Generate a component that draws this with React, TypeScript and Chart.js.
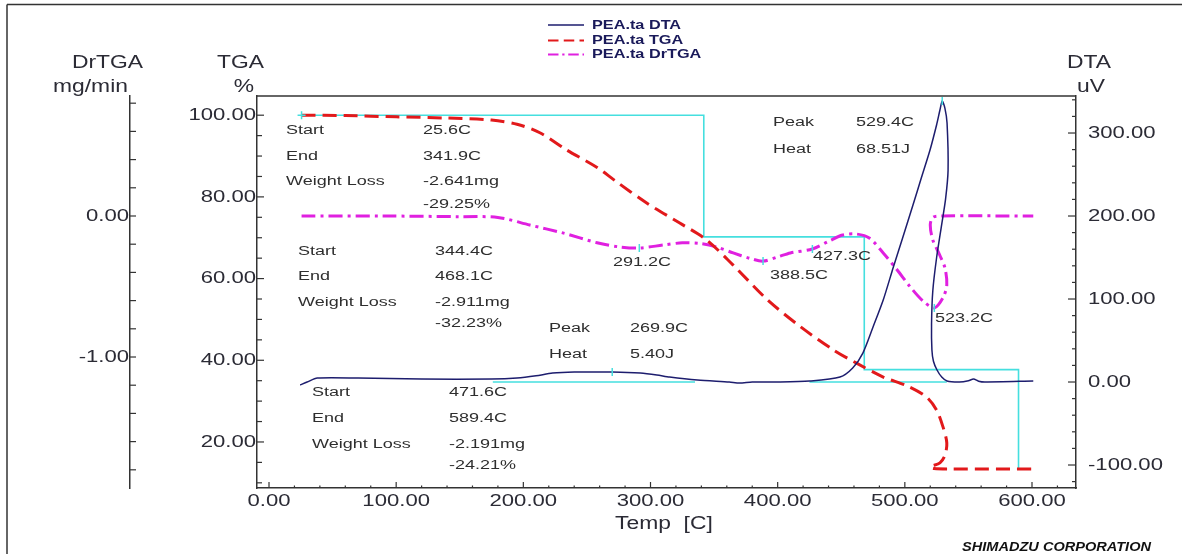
import React, { useEffect, useRef } from 'react';
import { Chart, registerables } from 'chart.js';

Chart.register(...registerables);

// ---------- axis tick labels ----------
const TEMP_TICKS = [0, 100, 200, 300, 400, 500, 600];
const TGA_TICKS = [20, 40, 60, 80, 100];
const DRTGA_TICKS = [-1, 0];
const DTA_TICKS = [-100, 0, 100, 200, 300];

// ---------- DTA (Temp [C], uV) ----------
const DTA_T = [24.5, 30, 38, 70, 120, 175, 195, 210, 223, 240, 270, 292, 305, 315, 337, 362, 370, 380, 402, 425, 449, 459, 467, 475, 483, 491, 498.5, 506.4, 513, 519.8, 525, 527.6, 529.4, 531.5, 533.2, 534, 532, 529, 525, 522, 521, 521.3, 522.5, 525.3, 529, 533.2, 543, 550, 554, 558, 563, 601];
const DTA_V = [-3.6, 0, 4.8, 4.8, 3.6, 3.6, 4.8, 7.5, 10.8, 12, 12, 10.8, 8.5, 6, 2.4, 0, -1.2, 0, 0, 1.2, 6, 16.9, 34.9, 66.3, 98.8, 138.6, 174.7, 213.3, 246, 279.5, 310, 327.7, 338.5, 330, 312, 255, 220, 190, 150, 110, 70, 38.6, 25, 14.5, 6, 1.2, 0, 1.5, 3.6, 1, 0, 1.2];

// ---------- TGA (Temp [C], %) ----------
const TGA_T = [25.6, 60, 100, 140, 175, 195, 213, 234, 258, 272, 297, 323, 344, 365, 392, 418, 444, 462, 483, 502, 517, 525, 530, 533, 531.6, 527.6, 520, 523, 535, 604];
const TGA_V = [100.0, 99.9, 99.6, 99.3, 98.8, 97.8, 95.7, 91.5, 87.2, 84.0, 78.5, 73.6, 69.5, 63.3, 54.8, 48.2, 42.5, 39.3, 35.9, 33.7, 31.0, 27.8, 23.7, 19.8, 16.8, 14.9, 13.9, 13.5, 13.4, 13.4];

// ---------- DrTGA (Temp [C], mg/min) ----------
const DRTGA_T = [25.6, 90, 150, 180, 205, 231, 258, 276, 291.2, 310, 325, 339, 352, 365, 378, 388.5, 400, 410, 427.3, 440, 451, 462, 472, 483, 494, 504, 514, 523.2, 530, 533, 531.6, 527.6, 522, 520, 522, 528, 601];
const DRTGA_V = [0.0, 0.0, -0.005, -0.01, -0.064, -0.12, -0.19, -0.22, -0.227, -0.206, -0.19, -0.195, -0.22, -0.262, -0.30, -0.32, -0.29, -0.262, -0.234, -0.18, -0.135, -0.128, -0.156, -0.262, -0.383, -0.50, -0.60, -0.652, -0.58, -0.49, -0.37, -0.28, -0.17, -0.064, -0.01, 0.0, 0.0];

// ---------- TGA step analysis ----------
const STEP_START = [25.6, 344.4, 471.6];
const STEP_END = [341.9, 468.1, 589.4];
const STEP_LOSS_MG = [-2.641, -2.911, -2.191];
const STEP_LOSS_PCT = [-29.25, -32.23, -24.21];
const STEP_LEVELS = [100, 70.2, 37.7, 13.4];

// ---------- DTA peaks ----------
const DTA_PEAK_T = [269.9, 529.4];
const DTA_PEAK_V = [12, 338.5];
const DTA_PEAK_HEAT = [5.40, 68.51];
const DTA_BASE_FROM = [176, 425];
const DTA_BASE_TO = [335, 533];

// ---------- DrTGA peaks ----------
const DRTGA_PEAK_T = [291.2, 388.5, 427.3, 523.2];
const DRTGA_PEAK_V = [-0.227, -0.32, -0.234, -0.652];

const SERIES_NAMES = ['PEA.ta DTA', 'PEA.ta TGA', 'PEA.ta DrTGA'];

const NAVY = '#1d1d6e';
const RED = '#e2191b';
const MAGENTA = '#e020e0';
const CYAN = '#45dfdf';
const AXIS = '#333333';
const TXT = '#2e2e2e';
const FONT = '"Liberation Sans", Arial, Helvetica, sans-serif';

const pts = (xs: number[], ys: number[]) => xs.map((x, i) => ({ x, y: ys[i] }));

function sText(ctx: CanvasRenderingContext2D, text: string, x: number, y: number, o: any = {}) {
  const size = o.size ?? 12;
  const sx = o.sx ?? 1.5;
  const align = o.align ?? 'left';
  ctx.save();
  ctx.font = `${o.style ?? 'normal'} ${o.weight ?? 'normal'} ${size}px ${FONT}`;
  ctx.fillStyle = o.color ?? TXT;
  ctx.textBaseline = 'middle';
  ctx.textAlign = 'left';
  const w = ctx.measureText(text).width * sx;
  const left = align === 'left' ? x : align === 'right' ? x - w : x - w / 2;
  if (o.clipRight != null) {
    ctx.beginPath();
    ctx.rect(0, 0, o.clipRight, 2000);
    ctx.clip();
  }
  ctx.translate(left, y);
  ctx.scale(sx, 1);
  ctx.fillText(text, 0, 0);
  ctx.restore();
}

function line(ctx: CanvasRenderingContext2D, x1: number, y1: number, x2: number, y2: number) {
  ctx.beginPath();
  ctx.moveTo(x1, y1);
  ctx.lineTo(x2, y2);
  ctx.stroke();
}

const decor = {
  id: 'decor',
  beforeDraw(chart: any) {
    const { ctx, width, height } = chart;
    ctx.save();
    ctx.fillStyle = '#ffffff';
    ctx.fillRect(0, 0, width, height);
    ctx.restore();
  },
  afterDraw(chart: any) {
    const { ctx, chartArea: ca, scales } = chart;
    const sxs = scales.x, st = scales.yTGA, sd = scales.yDr, sa = scales.yDTA;
    ctx.save();
    ctx.strokeStyle = AXIS;
    ctx.lineWidth = 1.5;
    // outer frame
    line(ctx, 7, 554, 7, 4.5);
    line(ctx, 7, 4.5, 1182, 4.5);
    // top of plot frame
    line(ctx, ca.left, ca.top, ca.right, ca.top);

    // tick marks (pointing inward)
    ctx.lineWidth = 1.2;
    for (let v = 0; v <= 620; v += 20) {
      const p = sxs.getPixelForValue(v);
      const major = v % 100 === 0;
      line(ctx, p, ca.bottom, p, ca.bottom - (major ? 6 : 2.5));
    }
    for (let v = 10; v <= 100; v += 5) {
      const p = st.getPixelForValue(v);
      line(ctx, ca.left, p, ca.left + (v % 20 === 0 ? 7 : 5), p);
    }
    for (let i = -9; i <= 4; i++) {
      const v = i * 0.2;
      const p = sd.getPixelForValue(v);
      line(ctx, sd.right, p, sd.right + 6, p);
    }
    for (let v = -120; v <= 340; v += 20) {
      const p = sa.getPixelForValue(v);
      line(ctx, ca.right, p, ca.right - (v % 100 === 0 ? 8 : 4), p);
    }

    // tick labels
    const tk = { size: 17, sx: 1.3, color: '#2b2b35' };
    sxs.ticks.forEach((t: any) => sText(ctx, t.value.toFixed(2), sxs.getPixelForValue(t.value), 501, { ...tk, align: 'center' }));
    st.ticks.forEach((t: any) => sText(ctx, t.value.toFixed(2), 256, st.getPixelForValue(t.value), { ...tk, align: 'right' }));
    sd.ticks.forEach((t: any) => sText(ctx, t.value.toFixed(2), sd.right - 1, sd.getPixelForValue(t.value), { ...tk, align: 'right' }));
    sa.ticks.forEach((t: any) => sText(ctx, t.value.toFixed(2), 1088, sa.getPixelForValue(t.value), { ...tk, align: 'left' }));

    // axis titles
    const ti = { size: 18, sx: 1.27, color: '#2b2b35' };
    sText(ctx, 'DrTGA', 72, 63, ti);
    sText(ctx, 'mg/min', 53, 87, ti);
    sText(ctx, 'TGA', 217, 63, ti);
    sText(ctx, '%', 244, 87, { ...ti, align: 'center' });
    sText(ctx, 'DTA', 1067, 63, ti);
    sText(ctx, 'uV', 1077, 87, ti);
    sText(ctx, 'Temp  [C]', 615, 524, ti);

    // legend
    const ds = chart.data.datasets.filter((d: any) => SERIES_NAMES.includes(d.label));
    const rows = [25, 40.5, 54.5];
    ds.forEach((d: any, i: number) => {
      ctx.save();
      ctx.strokeStyle = d.borderColor;
      ctx.lineWidth = Math.min(d.borderWidth, 2.2);
      ctx.setLineDash(d.borderDash ? d.borderDash.map((x: number) => x * 0.75) : []);
      line(ctx, 548, rows[i], 584, rows[i]);
      ctx.restore();
      sText(ctx, d.label, 592, rows[i], { size: 13, sx: 1.25, color: '#1a1a5a', weight: 'bold' });
    });

    // TGA step annotations
    const an = { size: 12, sx: 1.5, color: TXT };
    const blocks = [
      { lx: 286, vx: 423, y: [131, 157, 182, 205] },
      { lx: 298, vx: 435, y: [252, 277, 303, 324] },
      { lx: 312, vx: 449, y: [393, 419, 445, 466] },
    ];
    blocks.forEach((b, i) => {
      sText(ctx, 'Start', b.lx, b.y[0], an);
      sText(ctx, STEP_START[i].toFixed(1) + 'C', b.vx, b.y[0], an);
      sText(ctx, 'End', b.lx, b.y[1], an);
      sText(ctx, STEP_END[i].toFixed(1) + 'C', b.vx, b.y[1], an);
      sText(ctx, 'Weight Loss', b.lx, b.y[2], an);
      sText(ctx, STEP_LOSS_MG[i].toFixed(3) + 'mg', b.vx, b.y[2], an);
      sText(ctx, STEP_LOSS_PCT[i].toFixed(2) + '%', b.vx, b.y[3], an);
    });
    // DTA peak annotations
    const peaks = [
      { lx: 549, vx: 630, y: [329, 355] },
      { lx: 773, vx: 856, y: [123, 150] },
    ];
    peaks.forEach((p, i) => {
      sText(ctx, 'Peak', p.lx, p.y[0], an);
      sText(ctx, DTA_PEAK_T[i].toFixed(1) + 'C', p.vx, p.y[0], an);
      sText(ctx, 'Heat', p.lx, p.y[1], an);
      sText(ctx, DTA_PEAK_HEAT[i].toFixed(2) + 'J', p.vx, p.y[1], an);
    });
    // DrTGA peak labels
    const dl = [
      { x: 613, y: 263 },
      { x: 770, y: 276 },
      { x: 813, y: 257 },
      { x: 935, y: 319 },
    ];
    dl.forEach((p, i) => sText(ctx, DRTGA_PEAK_T[i].toFixed(1) + 'C', p.x, p.y, an));

    // footer
    sText(ctx, 'SHIMADZU CORPORATION', 962, 547, { size: 13, sx: 1.12, weight: 'bold', style: 'italic', color: '#111', clipRight: 1166 });
    ctx.restore();
  },
};

export default function App() {
  const ref = useRef<HTMLCanvasElement | null>(null);
  useEffect(() => {
    if (!ref.current) return;
    const steps: any[] = [{ x: STEP_START[0], y: STEP_LEVELS[0] }];
    STEP_END.forEach((e, i) => {
      steps.push({ x: e, y: STEP_LEVELS[i] });
      steps.push({ x: e, y: STEP_LEVELS[i + 1] });
    });
    const base: any[] = [];
    DTA_BASE_FROM.forEach((f, i) => {
      base.push({ x: f, y: 0 }, { x: DTA_BASE_TO[i], y: 0 }, { x: DTA_BASE_TO[i] + 1, y: null });
    });
    const chart = new Chart(ref.current, {
      type: 'line',
      data: {
        datasets: [
          { label: 'drtga-peaks', data: pts(DRTGA_PEAK_T, DRTGA_PEAK_V), yAxisID: 'yDr', showLine: false, pointStyle: 'line', rotation: 90, pointRadius: 4, borderColor: CYAN, borderWidth: 1.5 } as any,
          { label: 'dta-peaks', data: pts(DTA_PEAK_T, DTA_PEAK_V), yAxisID: 'yDTA', showLine: false, pointStyle: 'line', rotation: 90, pointRadius: 4, borderColor: CYAN, borderWidth: 1.5 } as any,
          { label: 'tga-start', data: [{ x: STEP_START[0], y: STEP_LEVELS[0] }], yAxisID: 'yTGA', showLine: false, pointStyle: 'cross', pointRadius: 4, borderColor: CYAN, borderWidth: 1.5 } as any,
          { label: SERIES_NAMES[0], data: pts(DTA_T, DTA_V), yAxisID: 'yDTA', borderColor: NAVY, borderWidth: 1.5, pointRadius: 0, tension: 0.25 } as any,
          { label: SERIES_NAMES[1], data: pts(TGA_T, TGA_V), yAxisID: 'yTGA', borderColor: RED, borderWidth: 3, borderDash: [14, 7], pointRadius: 0, tension: 0.3 } as any,
          { label: SERIES_NAMES[2], data: pts(DRTGA_T, DRTGA_V), yAxisID: 'yDr', borderColor: MAGENTA, borderWidth: 3, borderDash: [14, 5, 3, 5], pointRadius: 0, tension: 0.3 } as any,
          { label: 'steps', data: steps, yAxisID: 'yTGA', borderColor: CYAN, borderWidth: 1.6, pointRadius: 0, tension: 0 } as any,
          { label: 'dta-base', data: base, yAxisID: 'yDTA', borderColor: CYAN, borderWidth: 1.6, pointRadius: 0, tension: 0, spanGaps: false } as any,
        ],
      },
      options: {
        animation: false,
        responsive: false,
        events: [],
        layout: { padding: { top: 96, left: 0, right: 0, bottom: 0 } },
        plugins: { legend: { display: false }, tooltip: { enabled: false }, title: { display: false } },
        scales: {
          x: {
            type: 'linear', position: 'bottom', min: -9.44, max: 634.6,
            grid: { display: false }, border: { display: true, color: AXIS, width: 1.5 },
            ticks: { display: false },
            afterBuildTicks: (s: any) => { s.ticks = TEMP_TICKS.map((v) => ({ value: v })); },
            afterFit: (s: any) => { s.height = 66; },
          },
          yTGA: {
            type: 'linear', position: 'left', weight: 0, min: 8.73, max: 104.7,
            grid: { display: false }, border: { display: true, color: AXIS, width: 1.5 },
            ticks: { display: false },
            afterBuildTicks: (s: any) => { s.ticks = TGA_TICKS.map((v) => ({ value: v })); },
            afterFit: (s: any) => { s.width = 127; },
          },
          yDr: {
            type: 'linear', position: 'left', weight: 1, min: -1.929, max: 0.851,
            grid: { display: false }, border: { display: true, color: AXIS, width: 1.5 },
            ticks: { display: false },
            afterBuildTicks: (s: any) => { s.ticks = DRTGA_TICKS.map((v) => ({ value: v })); },
            afterFit: (s: any) => { s.width = 130; },
          },
          yDTA: {
            type: 'linear', position: 'right', min: -127.7, max: 344.6,
            grid: { display: false }, border: { display: true, color: AXIS, width: 1.5 },
            ticks: { display: false },
            afterBuildTicks: (s: any) => { s.ticks = DTA_TICKS.map((v) => ({ value: v })); },
            afterFit: (s: any) => { s.width = 106; },
          },
        },
      } as any,
      plugins: [decor],
    });
    return () => chart.destroy();
  }, []);
  return (
    <div style={{ position: 'absolute', left: 0, top: 0, width: 1182, height: 554 }}>
      <canvas ref={ref} width={1182} height={554} style={{ display: 'block' }} />
    </div>
  );
}
